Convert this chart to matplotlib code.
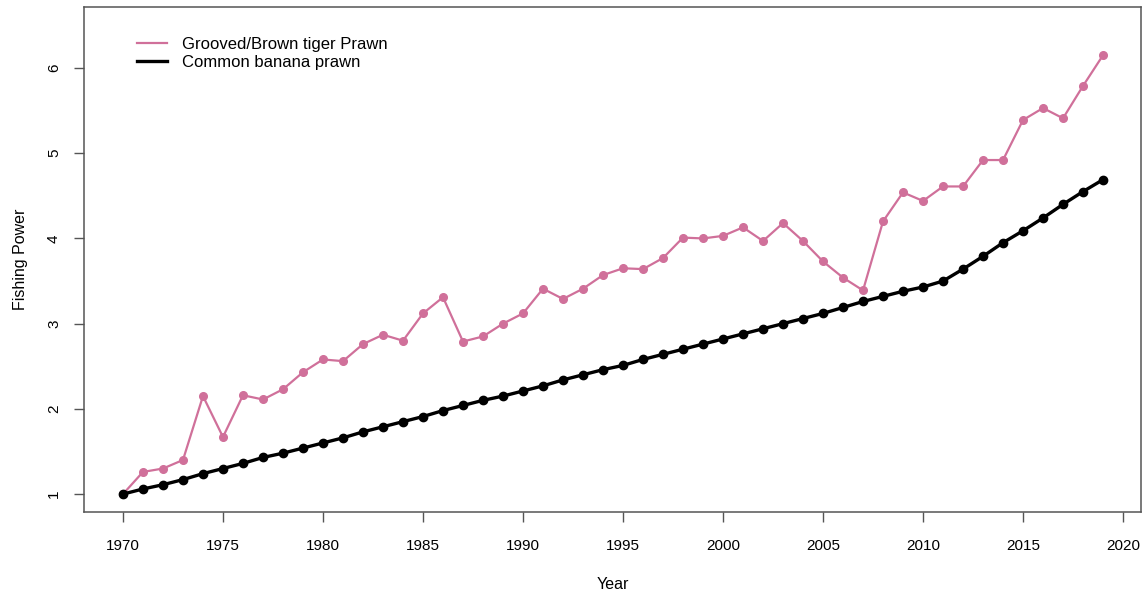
import matplotlib.pyplot as plt

plt.rcParams['font.family'] = ['Liberation Sans', 'DejaVu Sans']

years = list(range(1970, 2020))

# Grooved/Brown tiger prawn fishing power
tiger = [1.00, 1.26, 1.30, 1.40, 2.15, 1.67, 2.16, 2.11, 2.23, 2.43,
         2.58, 2.56, 2.76, 2.87, 2.80, 3.12, 3.31, 2.79, 2.85, 3.00,
         3.12, 3.41, 3.29, 3.41, 3.57, 3.65, 3.64, 3.77, 4.01, 4.00,
         4.03, 4.13, 3.97, 4.18, 3.97, 3.73, 3.54, 3.39, 4.20, 4.54,
         4.44, 4.61, 4.61, 4.92, 4.92, 5.39, 5.53, 5.41, 5.79, 6.15]

# Common banana prawn fishing power
banana = [1.00, 1.06, 1.11, 1.17, 1.24, 1.30, 1.36, 1.43, 1.48, 1.54,
          1.60, 1.66, 1.73, 1.79, 1.85, 1.91, 1.98, 2.04, 2.10, 2.15,
          2.21, 2.27, 2.34, 2.40, 2.46, 2.51, 2.58, 2.64, 2.70, 2.76,
          2.82, 2.88, 2.94, 3.00, 3.06, 3.12, 3.19, 3.26, 3.32, 3.38,
          3.43, 3.50, 3.64, 3.79, 3.95, 4.09, 4.24, 4.40, 4.55, 4.69]

x_ticks = list(range(1970, 2021, 5))
y_ticks = [1, 2, 3, 4, 5, 6]

pink = '#d0709a'

fig = plt.figure(figsize=(11.44, 5.97), dpi=100)
ax = fig.add_axes([0.0734, 0.1424, 0.924, 0.8459])

ax.plot(years, tiger, color=pink, lw=1.6, marker='o', ms=5.5,
        label='Grooved/Brown tiger Prawn')
ax.plot(years, banana, color='black', lw=2.4, marker='o', ms=6,
        label='Common banana prawn')

ax.set_xlim(1968.05, 2020.9)
ax.set_ylim(0.79, 6.716)
ax.set_xticks(x_ticks)
ax.set_yticks(y_ticks)
ax.tick_params(axis='both', direction='out', length=7.5, width=1,
               color='#555555', labelsize=11)
ax.tick_params(axis='x', pad=12)
ax.tick_params(axis='y', pad=9)
for lab in ax.get_yticklabels():
    lab.set_rotation(90)
    lab.set_va('center')
for sp in ax.spines.values():
    sp.set_color('#555555')
    sp.set_linewidth(1.1)

ax.set_xlabel('Year', fontsize=11.5, labelpad=17)
ax.set_ylabel('Fishing Power', fontsize=11.5, labelpad=14)

leg = ax.legend(loc='upper left', frameon=False, fontsize=12,
                bbox_to_anchor=(0.050, 0.941), borderaxespad=0,
                borderpad=0, handlelength=1.8, handletextpad=0.9,
                labelspacing=0.2)
for h in leg.legend_handles:
    h.set_marker('')

fig.savefig('out.png', dpi=100)
